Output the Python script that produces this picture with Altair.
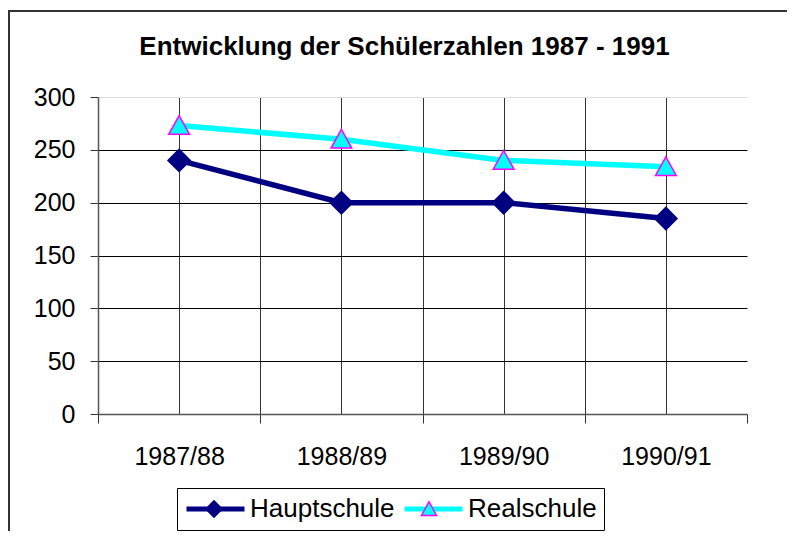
import json
import altair as alt
import pandas as pd

# ---- data ----
categories = ["1987/88", "1988/89", "1989/90", "1990/91"]
series_names = ["Hauptschule", "Realschule"]
hauptschule = [240, 200, 200, 185]
realschule = [273, 260, 240, 234]
y_ticks = [0, 50, 100, 150, 200, 250, 300]
x_positions = [-0.5, 0, 0.5, 1, 1.5, 2, 2.5, 3, 3.5]

rows = []
for name, vals in zip(series_names, [hauptschule, realschule]):
    for i, (c, v) in enumerate(zip(categories, vals)):
        rows.append({"idx": i, "cat": c, "series": name, "series_m": name, "value": v})
df = pd.DataFrame(rows)

FONT = "Liberation Sans"
line_colors = ["#000080", "#00FFFF"]
marker_fill = ["#000080", "#00FFFF"]
marker_stroke = ["#000080", "#FF00FF"]
diamond = "M0,-0.28L0.28,0L0,0.28L-0.28,0Z"
triangle = "M0,-0.25L0.26,0.22L-0.26,0.22Z"

label_expr = "datum.value % 1 == 0 ? " + json.dumps(categories) + "[datum.value] : ''"

x_enc = alt.X(
    "idx:Q",
    scale=alt.Scale(domain=[-0.5, 3.5], nice=False, zero=False),
    axis=alt.Axis(
        values=x_positions, labelExpr=label_expr, title=None, grid=True,
        gridColor="#333333",
        gridOpacity={"condition": {"test": "datum.value == -0.5 || datum.value == 3.5", "value": 0}, "value": 1},
        tickOpacity={"condition": {"test": "datum.value % 1 == 0", "value": 0}, "value": 1},
        tickSize=9, tickColor="#333333", domainColor="#555555", domainWidth=1.5,
        labelFont=FONT, labelFontSize=25, labelColor="black", labelPadding=21,
        labelOverlap=False, labelFlush=False,
    ),
)
y_enc = alt.Y(
    "value:Q",
    scale=alt.Scale(domain=[0, 300], nice=False, zero=True),
    axis=alt.Axis(
        values=y_ticks, title=None, grid=True,
        gridColor={"condition": {"test": "datum.value == 300", "value": "#dddddd"}, "value": "black"},
        tickSize=8, tickColor="#333333", domainColor="#555555", domainWidth=1.5,
        labelFont=FONT, labelFontSize=25, labelColor="black", labelPadding=15,
    ),
)

legend_common = dict(
    title=None, orient="none", legendX=79, legendY=391, direction="horizontal",
    symbolSize=3364, clipHeight=28, padding=7, labelFont=FONT, labelFontSize=26,
    labelOffset=3, columnPadding=7, labelColor="black",
)
legend_line = alt.Legend(symbolType="M-1,0H1", symbolStrokeWidth=5, strokeColor="black", **legend_common)
legend_mark = alt.Legend(symbolStrokeWidth=1.5, labelOpacity=0, **legend_common)

base = alt.Chart(df)
frame_data = alt.Data(values=[{"a": 1}])

# outer chart frame (top and left edges; right/bottom lie outside the picture)
frame_top = alt.Chart(frame_data).mark_rule(stroke="#333333", strokeWidth=2, clip=False).encode(
    x=alt.value(-90), x2=alt.value(700), y=alt.value(-86)
)
frame_left = alt.Chart(frame_data).mark_rule(stroke="#333333", strokeWidth=2, clip=False).encode(
    x=alt.value(-89), y=alt.value(-87), y2=alt.value(460)
)

lines = base.mark_line(strokeWidth=5.5).encode(
    x=x_enc, y=y_enc,
    color=alt.Color("series:N", scale=alt.Scale(range=line_colors), legend=legend_line),
)

points = base.mark_point(filled=True, size=6344, strokeWidth=1.5, opacity=1).encode(
    x=x_enc, y=y_enc,
    fill=alt.Fill("series_m:N", scale=alt.Scale(range=marker_fill), legend=legend_mark),
    stroke=alt.Stroke("series_m:N", scale=alt.Scale(range=marker_stroke), legend=legend_mark),
    shape=alt.Shape("series_m:N", scale=alt.Scale(range=[diamond, triangle]), legend=legend_mark),
)

chart = alt.layer(frame_top, frame_left, lines, points).properties(
    width=649, height=317,
    title=alt.TitleParams(
        text="Entwicklung der Schülerzahlen 1987 - 1991", font=FONT, fontSize=26,
        fontWeight="bold", anchor="middle", frame="group", dx=-18, offset=-51, color="black",
    ),
    padding={"left": 90, "top": 89, "right": 40, "bottom": 117},
    autosize=alt.AutoSizeParams(type="none"),
).configure_view(stroke=None)

chart.save("out.html", embed_options={"renderer": "svg", "actions": False})
